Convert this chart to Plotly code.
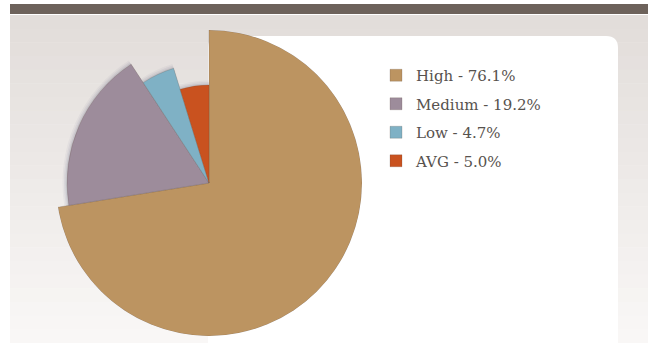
import plotly.graph_objects as go

# ---- data ----
categories = ["High", "Medium", "Low", "AVG"]
percent_values = [76.1, 19.2, 4.7, 5.0]
legend_labels = ["High - 76.1%", "Medium - 19.2%", "Low - 4.7%", "AVG - 5.0%"]

# ---- style ----
slice_colors = ["#bc9461", "#9d8c9b", "#7fb1c5", "#c9521f"]
slice_radius = [153, 142, 120, 98]   # visual radius of each wedge (px)

W, H = 657, 343
def px(x):
    return x / W
def py(y):
    return 1 - y / H

total = sum(percent_values)
widths = [v / total * 360 for v in percent_values]
thetas = []
acc = 0
for w in widths:
    thetas.append(acc + w / 2)
    acc += w

fig = go.Figure()

# soft shadow
for grow, alpha in [(4.5, 0.05), (3, 0.07), (1.5, 0.1)]:
    fig.add_trace(go.Barpolar(
        r=[r + grow for r in slice_radius], theta=thetas, width=widths,
        marker=dict(color=f"rgba(70,75,110,{alpha})", line=dict(width=0)),
        showlegend=False, hoverinfo="skip"))

for i, cat in enumerate(categories):
    fig.add_trace(go.Barpolar(
        r=[slice_radius[i]], theta=[thetas[i]], width=[widths[i]],
        name=legend_labels[i],
        marker=dict(color=slice_colors[i], line=dict(color="rgba(90,70,60,0.35)", width=0.6)),
        legendgroup=cat,
    ))

# ---- background shapes ----
shapes = []
# gradient backdrop
n = 24
top_c = (226, 221, 218)
bot_c = (249, 247, 246)
y0, y1 = 15, 343
for k in range(n):
    t = k / (n - 1)
    c = tuple(int(round(top_c[j] + (bot_c[j] - top_c[j]) * t)) for j in range(3))
    ya = y0 + (y1 - y0) * k / n
    yb = y0 + (y1 - y0) * (k + 1) / n
    shapes.append(dict(type="rect", xref="paper", yref="paper",
                       x0=px(10), x1=px(648), y0=py(ya), y1=py(yb + 0.5),
                       fillcolor=f"rgb{c}", line=dict(width=0), layer="below"))
# white rounded panel
L, R, T, B, rr = 208, 618, 36, 343, 12
path = (f"M {px(L)},{py(B)} L {px(L)},{py(T + rr)} Q {px(L)},{py(T)} {px(L + rr)},{py(T)} "
        f"L {px(R - rr)},{py(T)} Q {px(R)},{py(T)} {px(R)},{py(T + rr)} L {px(R)},{py(B)} Z")
shapes.append(dict(type="path", xref="paper", yref="paper", path=path,
                   fillcolor="#ffffff", line=dict(width=0), layer="below"))
# top dark bar
shapes.append(dict(type="rect", xref="paper", yref="paper",
                   x0=px(10), x1=px(648), y0=py(4), y1=py(14),
                   fillcolor="#6d625b", line=dict(width=0), layer="below"))

cx, cy, R0 = 209, 183, 153
fig.update_layout(
    width=W, height=H,
    margin=dict(l=0, r=0, t=0, b=0),
    paper_bgcolor="#ffffff",
    shapes=shapes,
    polar=dict(
        domain=dict(x=[px(cx - R0), px(cx + R0)], y=[py(cy + R0), py(cy - R0)]),
        bgcolor="rgba(0,0,0,0)",
        bargap=0,
        barmode="overlay",
        hole=0,
        radialaxis=dict(range=[0, R0], visible=False),
        angularaxis=dict(rotation=90, direction="clockwise", visible=False),
    ),
    legend=dict(
        x=px(376), y=py(59), xanchor="left", yanchor="top",
        font=dict(family="DejaVu Serif", size=15, color="#57524e"),
        bgcolor="rgba(0,0,0,0)",
        tracegroupgap=6,
    ),
    showlegend=True,
)

fig.write_html("out.html", config={"displayModeBar": False},
               post_script="document.body.style.margin='0px';")
